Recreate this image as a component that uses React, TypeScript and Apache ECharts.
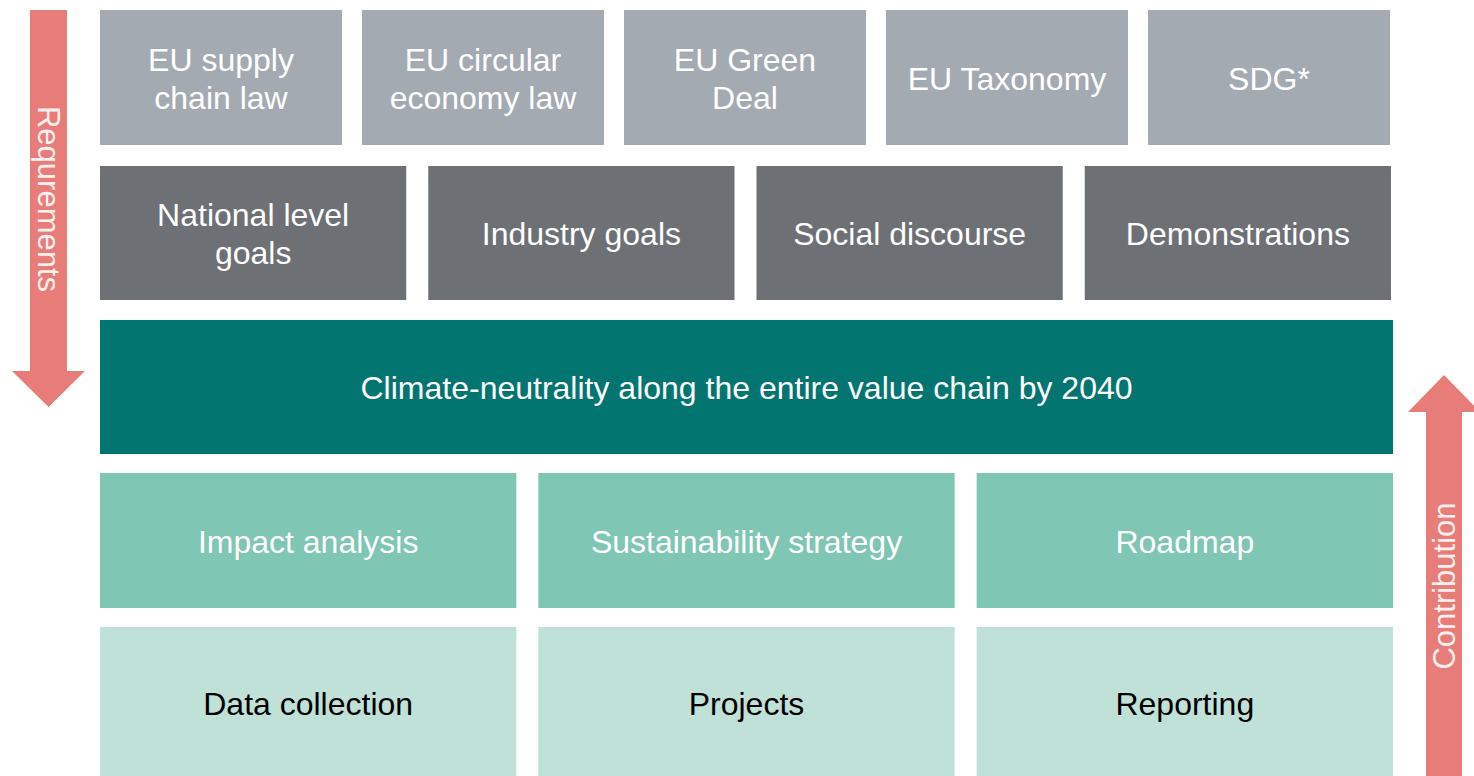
import React, { useEffect, useRef } from "react";
import * as echarts from "echarts";

const row1Labels = ["EU supply\nchain law", "EU circular\neconomy law", "EU Green\nDeal", "EU Taxonomy", "SDG*"];
const row2Labels = ["National level\ngoals", "Industry goals", "Social discourse", "Demonstrations"];
const row3Labels = ["Climate-neutrality along the entire value chain by 2040"];
const row4Labels = ["Impact analysis", "Sustainability strategy", "Roadmap"];
const row5Labels = ["Data collection", "Projects", "Reporting"];
const leftArrowLabel = "Requrements";
const rightArrowLabel = "Contribution";

const FONT = "'Liberation Sans', Arial, sans-serif";

export default function App() {
  const ref = useRef<HTMLDivElement>(null);
  useEffect(() => {
    document.body.style.margin = "0";
    const chart = echarts.init(ref.current!, null, { renderer: "svg" });
    const elements: any[] = [];

    const addRow = (
      labels: string[],
      x0: number,
      x1: number,
      gap: number,
      y: number,
      h: number,
      fill: string,
      textColor: string,
      textY?: number
    ) => {
      const n = labels.length;
      const w = (x1 - x0 - gap * (n - 1)) / n;
      labels.forEach((lab, i) => {
        const x = x0 + i * (w + gap);
        elements.push({
          type: "rect",
          shape: { x, y, width: w, height: h },
          style: { fill },
          silent: true,
        });
        elements.push({
          type: "text",
          x: x + w / 2,
          y: textY !== undefined ? textY : y + h / 2 + 1,
          style: {
            text: lab,
            fill: textColor,
            font: `32px ${FONT}`,
            lineHeight: 38,
            align: "center",
            verticalAlign: "middle",
          },
          silent: true,
        });
      });
    };

    addRow(row1Labels, 100, 1390, 20, 10, 135, "#A3AAB1", "#FFFFFF");
    addRow(row2Labels, 100, 1391, 22, 166, 134, "#6D7075", "#FFFFFF");
    addRow(row3Labels, 100, 1393, 0, 320, 134, "#027571", "#FFFFFF");
    addRow(row4Labels, 100, 1393, 22, 473, 135, "#7FC6B4", "#FFFFFF");
    addRow(row5Labels, 100, 1393, 22, 627, 160, "#C0E1D8", "#000000", 704);

    // left arrow (down)
    elements.push({
      type: "polygon",
      shape: {
        points: [
          [30, 10], [67, 10], [67, 371], [85, 371], [48.5, 407], [12, 371], [30, 371],
        ],
      },
      style: { fill: "#E87C79" },
      silent: true,
    });
    elements.push({
      type: "text",
      x: 48,
      y: 199,
      rotation: -Math.PI / 2,
      style: {
        text: leftArrowLabel,
        fill: "#FDF0EF",
        font: `31px ${FONT}`,
        align: "center",
        verticalAlign: "middle",
      },
      silent: true,
    });

    // right arrow (up)
    elements.push({
      type: "polygon",
      shape: {
        points: [
          [1426, 780], [1426, 412], [1408, 412], [1444, 375], [1480, 412], [1462, 412], [1462, 780],
        ],
      },
      style: { fill: "#E87C79" },
      silent: true,
    });
    elements.push({
      type: "text",
      x: 1444,
      y: 586,
      rotation: Math.PI / 2,
      style: {
        text: rightArrowLabel,
        fill: "#FDF0EF",
        font: `31px ${FONT}`,
        align: "center",
        verticalAlign: "middle",
      },
      silent: true,
    });

    chart.setOption({
      animation: false,
      backgroundColor: "#FFFFFF",
      graphic: { elements },
    });
    return () => chart.dispose();
  }, []);
  return <div ref={ref} style={{ width: 1474, height: 776 }} />;
}
